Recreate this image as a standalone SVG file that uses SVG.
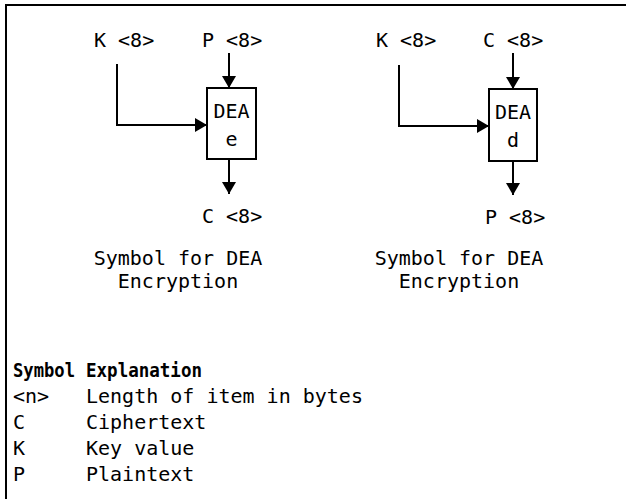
<svg xmlns="http://www.w3.org/2000/svg" width="626" height="499" viewBox="0 0 626 499">
<defs>
<style>
text{font-family:"DejaVu Sans Mono","Liberation Mono",monospace;font-size:20px;fill:#000}
.b{font-weight:bold}
.m{text-anchor:middle}
.ln{fill:none;stroke:#000;stroke-width:2}
.box{fill:#fff;stroke:#000;stroke-width:2}
</style>
<marker id="ah" viewBox="0 0 12 14" refX="12" refY="7" markerWidth="12" markerHeight="14" markerUnits="userSpaceOnUse" orient="auto">
<path d="M0,0 L12,7 L0,14 Z" fill="#000"/>
</marker>
</defs>
<rect width="626" height="499" fill="#fff"/>
<path class="ln" d="M6,499 V5 H626" stroke-width="2.5"/>

<g id="connectors">
<path class="ln" d="M229,53 V88" marker-end="url(#ah)"/>
<path class="ln" d="M117,64 V125 H207" marker-end="url(#ah)"/>
<path class="ln" d="M229,159 V194" marker-end="url(#ah)"/>
<path class="ln" d="M513,53 V89" marker-end="url(#ah)"/>
<path class="ln" d="M399,65 V126 H489" marker-end="url(#ah)"/>
<path class="ln" d="M513,161 V195" marker-end="url(#ah)"/>
</g>

<g id="enc-k"><text x="94" y="47">K &lt;8&gt;</text></g>
<g id="enc-p"><text x="202" y="47">P &lt;8&gt;</text></g>
<g id="enc-box">
<rect class="box" x="207" y="88" width="49" height="71"/>
<text class="m" x="231.5" y="118">DEA</text>
<text class="m" x="231.5" y="146">e</text>
</g>
<g id="enc-c"><text x="202" y="223">C &lt;8&gt;</text></g>
<g id="enc-title">
<text class="m" x="178" y="265">Symbol for DEA</text>
<text class="m" x="178" y="288">Encryption</text>
</g>

<g id="dec-k"><text x="376" y="47">K &lt;8&gt;</text></g>
<g id="dec-c"><text x="483" y="47">C &lt;8&gt;</text></g>
<g id="dec-box">
<rect class="box" x="489" y="89" width="48" height="72"/>
<text class="m" x="513" y="119">DEA</text>
<text class="m" x="513" y="147">d</text>
</g>
<g id="dec-p"><text x="485" y="224">P &lt;8&gt;</text></g>
<g id="dec-title">
<text class="m" x="459" y="265">Symbol for DEA</text>
<text class="m" x="459" y="288">Encryption</text>
</g>

<g id="legend">
<text class="b" x="13" y="377" textLength="62" lengthAdjust="spacingAndGlyphs">Symbol</text>
<text class="b" x="86" y="377" textLength="116" lengthAdjust="spacingAndGlyphs">Explanation</text>
<text x="13" y="403">&lt;n&gt;</text>
<text x="86" y="403">Length of item in bytes</text>
<text x="13" y="429">C</text>
<text x="86" y="429">Ciphertext</text>
<text x="13" y="455">K</text>
<text x="86" y="455">Key value</text>
<text x="13" y="481">P</text>
<text x="86" y="481">Plaintext</text>
</g>
</svg>
